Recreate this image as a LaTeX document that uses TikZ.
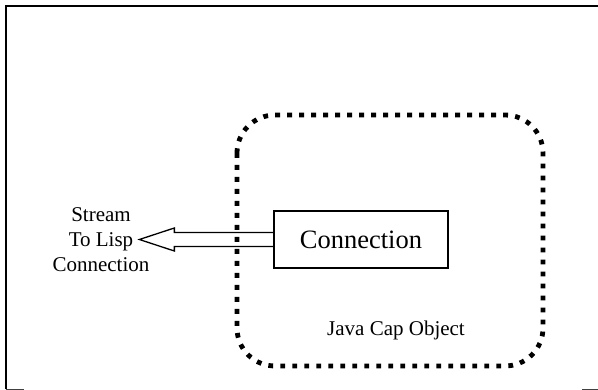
\documentclass[tikz,border=0pt]{standalone}
\usepackage{fontspec}
\setmainfont{Liberation Serif}
\begin{document}
\begin{tikzpicture}[x=1pt,y=-1pt,
  frameline/.style={line width=1.3pt, draw=black},
  capregion/.style={line width=4.8pt, dash pattern=on 4.8pt off 7.2pt, rounded corners=38pt},
  connbox/.style={draw, line width=1.3pt, minimum width=174pt, minimum height=57pt,
    inner sep=0pt, font=\fontsize{26.5}{30}\selectfont},
  plainlabel/.style={align=center, inner sep=0pt, font=\fontsize{21}{25}\selectfont},
  arrowline/.style={line width=1.3pt, line join=miter}]
  \useasboundingbox (0,0) rectangle (598,390);

  % page frame
  \draw[line width=2pt] (6,389.5) -- (6,6);
  \draw[frameline] (5,6) -- (598,6);
  \draw[line width=1.2pt, black!75] (6,389.5) -- (24,389.5);
  \draw[line width=1.2pt, black!75] (582,389.5) -- (598,389.5);

  % dotted cap object boundary
  \draw[capregion] (237,115) rectangle (543,366);
  \node[plainlabel] (cap) at (396,330) {Java Cap Object};

  % connection box
  \node[connbox] (conn) at (361,239.5) {Connection};

  % stream label
  \node[plainlabel] (stream) at (101,240) {Stream\\To Lisp\\Connection};

  % hollow arrow from the connection box toward the label
  \draw[arrowline] (conn.west) ++(0,-7) -- ++(-99,0) -- ++(0,-4.5)
    -- ++(-35,11.5) coordinate (tip) -- ++(35,11.5) -- ++(0,-4.5) -- ++(99,0);
\end{tikzpicture}
\end{document}
